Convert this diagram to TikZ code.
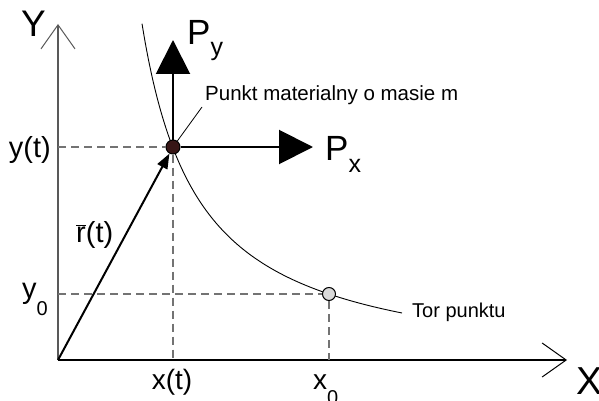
\documentclass[tikz,border=0pt]{standalone}
\usepackage{fontspec}
\setmainfont{Liberation Sans}
\usetikzlibrary{arrows.meta}
\newcommand{\fsz}[1]{\fontsize{#1}{#1}\selectfont}
\begin{document}
\begin{tikzpicture}[x=1pt,y=-1pt,
  yaxis/.style={draw=black!65, line width=1.3pt, -{Straight Barb[length=24pt,width=34pt,line width=1pt]}},
  xaxis/.style={draw=black, line width=1.3pt, -{Straight Barb[length=24pt,width=34pt,line width=1pt]}},
  dashline/.style={draw=black!55, line width=1.1pt, dash pattern=on 8pt off 5pt},
  vec/.style={draw=black, line width=2pt},
  bighead/.style={-{Triangle[length=34pt,width=34pt]}},
  smallhead/.style={-{Triangle[length=15pt,width=11pt]}},
  lbl/.style={inner sep=0pt, anchor=base west},
  curveline/.style={draw=black, line width=0.9pt},
]
\useasboundingbox (0,0) rectangle (599,401);
% coordinates
\coordinate (O) at (58,360);
\coordinate (ytip) at (58,24);
\coordinate (xtip) at (567,360);
\coordinate (yt) at (58,147);
\coordinate (xt) at (173,360);
\coordinate (yz) at (58,294);
\coordinate (xz) at (329,360);
\coordinate (pytip) at (173,40);
\coordinate (pxtip) at (313,147);
\coordinate (lead) at (202,107);
% trajectory
\draw[curveline, domain=142:402, samples=80, smooth, variable=\t]
  plot (\t, {376.4 - 201/((\t-85)/100)});
% axes
\draw[yaxis] (O) -- (ytip);
\draw[xaxis] (O) -- (xtip);
% points
\node[circle, draw=black, line width=1pt, fill={rgb,255:red,55;green,22;blue,22},
      minimum size=14pt, inner sep=0pt] (p) at (173,147) {};
\node[circle, draw=black, line width=1pt, fill=black!15,
      minimum size=13pt, inner sep=0pt] (q) at (329,294) {};
% dashed projections
\draw[dashline] (yt) -- (p);
\draw[dashline] (p) -- (xt);
\draw[dashline] (yz) -- (q);
\draw[dashline] (q) -- (xz);
% vectors
\draw[vec, smallhead] (O) -- (p);
\draw[vec, bighead] (p) -- (pytip);
\draw[vec, bighead] (p) -- (pxtip);
\draw[line width=0.8pt] (p) -- (lead);
% labels
\node[lbl] (lY) at (21,37) {\fsz{37}Y};
\node[lbl] (lX) at (576,394) {\fsz{39}X};
\node[lbl] (lPy) at (187,45) {\fsz{35}P\raisebox{-11pt}{\fsz{25}y}};
\node[lbl] (lPx) at (325,160) {\fsz{35}P\raisebox{-12pt}{\fsz{25}x}};
\node[lbl] (lpm) at (205,101) {\fsz{20.5}Punkt materialny o masie m};
\node[lbl] (ltor) at (412,317) {\fsz{20}Tor punktu};
\node[inner sep=0pt, anchor=base east] (lyt) at (51,157) {\fsz{29}y(t)};
\node[inner sep=0pt, anchor=base west] (lr) at (76,242) {\fsz{29}$\overline{\mbox{r}}$(t)};
\node[inner sep=0pt, anchor=base west] (ly0) at (22,298) {\fsz{29}y\raisebox{-17pt}{\fsz{20}0}};
\node[inner sep=0pt, anchor=base] (lxt) at (172,389) {\fsz{28}x(t)};
\node[inner sep=0pt, anchor=base west] (lx0) at (313,389) {\fsz{28}x\raisebox{-15pt}{\fsz{20}0}};
\end{tikzpicture}
\end{document}
